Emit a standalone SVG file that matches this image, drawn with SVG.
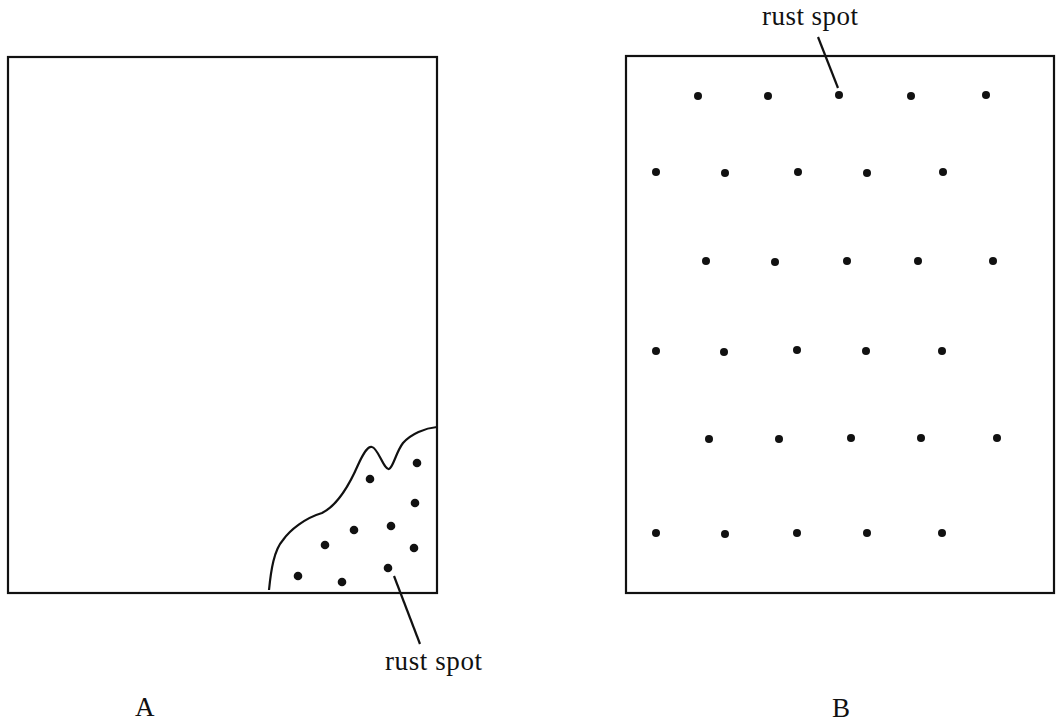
<svg xmlns="http://www.w3.org/2000/svg" width="1063" height="726" viewBox="0 0 1063 726">
<style>
.box{fill:none;stroke:#111;stroke-width:2.2}
.ln{fill:none;stroke:#111;stroke-width:2.2}
.dot{fill:#111}
.lbl{font-family:"Liberation Serif","Times New Roman",serif;font-size:27px;fill:#111}
</style>
<rect width="1063" height="726" fill="#fff"/>
<g id="panelA">
<rect class="box" x="8" y="57" width="429" height="536"/>
<path class="ln" d="M269,590 C271,570 274,550 283,540 C290,530 305,518 322,513 C336,506 348,488 358,465 C364,452 368,446 372,447 C378,448 384,470 389,469 C393,468 396,452 403,443 C411,434 425,428 437,427"/>
<g id="spotsA">
<circle class="dot" cx="417" cy="463" r="4.3"/>
<circle class="dot" cx="370" cy="479" r="4.3"/>
<circle class="dot" cx="415" cy="503" r="4.3"/>
<circle class="dot" cx="391" cy="526" r="4.3"/>
<circle class="dot" cx="354" cy="530" r="4.3"/>
<circle class="dot" cx="325" cy="545" r="4.3"/>
<circle class="dot" cx="414" cy="548" r="4.3"/>
<circle class="dot" cx="388" cy="568" r="4.3"/>
<circle class="dot" cx="298" cy="576" r="4.3"/>
<circle class="dot" cx="342" cy="582" r="4.3"/>
</g>
<text class="lbl" x="135" y="716">A</text>
</g>
<g id="panelB">
<rect class="box" x="626" y="56" width="428" height="537"/>
<g id="spotsB">
<circle class="dot" cx="698" cy="96" r="4"/>
<circle class="dot" cx="768" cy="96" r="4"/>
<circle class="dot" cx="839" cy="95" r="4"/>
<circle class="dot" cx="911" cy="96" r="4"/>
<circle class="dot" cx="986" cy="95" r="4"/>
<circle class="dot" cx="656" cy="172" r="4"/>
<circle class="dot" cx="725" cy="173" r="4"/>
<circle class="dot" cx="798" cy="172" r="4"/>
<circle class="dot" cx="867" cy="173" r="4"/>
<circle class="dot" cx="943" cy="172" r="4"/>
<circle class="dot" cx="706" cy="261" r="4"/>
<circle class="dot" cx="775" cy="262" r="4"/>
<circle class="dot" cx="847" cy="261" r="4"/>
<circle class="dot" cx="918" cy="261" r="4"/>
<circle class="dot" cx="993" cy="261" r="4"/>
<circle class="dot" cx="656" cy="351" r="4"/>
<circle class="dot" cx="724" cy="352" r="4"/>
<circle class="dot" cx="797" cy="350" r="4"/>
<circle class="dot" cx="866" cy="351" r="4"/>
<circle class="dot" cx="942" cy="351" r="4"/>
<circle class="dot" cx="709" cy="439" r="4"/>
<circle class="dot" cx="779" cy="439" r="4"/>
<circle class="dot" cx="851" cy="438" r="4"/>
<circle class="dot" cx="921" cy="438" r="4"/>
<circle class="dot" cx="997" cy="438" r="4"/>
<circle class="dot" cx="656" cy="533" r="4"/>
<circle class="dot" cx="725" cy="534" r="4"/>
<circle class="dot" cx="797" cy="533" r="4"/>
<circle class="dot" cx="867" cy="533" r="4"/>
<circle class="dot" cx="942" cy="533" r="4"/>
</g>
<text class="lbl" x="832" y="717">B</text>
</g>
<g id="connectors">
<line class="ln" x1="394" y1="576" x2="420" y2="644"/>
<line class="ln" x1="818" y1="37" x2="838" y2="88"/>
</g>
<g id="labels">
<text class="lbl" x="385" y="670" textLength="97" lengthAdjust="spacing">rust spot</text>
<text class="lbl" x="762" y="25" textLength="96" lengthAdjust="spacing">rust spot</text>
</g>
</svg>
